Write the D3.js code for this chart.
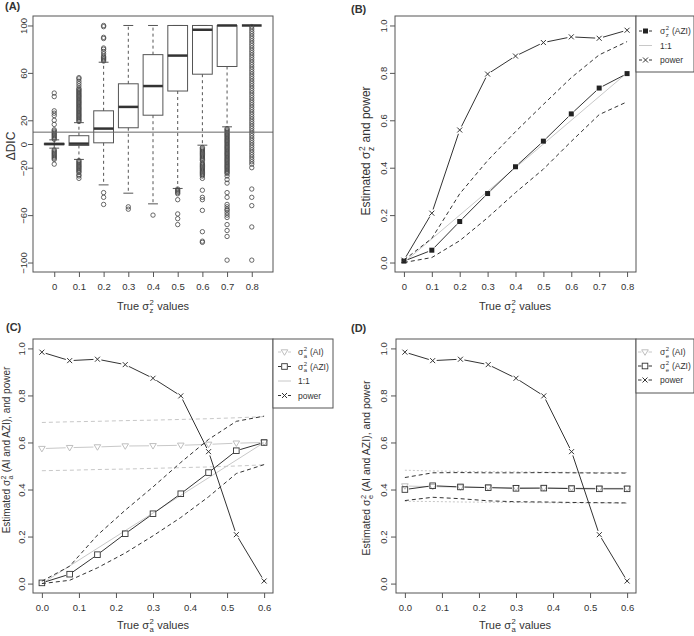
<!DOCTYPE html>
<html>
<head>
<meta charset="utf-8">
<script src="https://cdn.jsdelivr.net/npm/d3@7"></script>
<style>
body { margin: 0; background: #fff; }
svg text { font-family: "Liberation Sans", Arial, sans-serif; fill: #333; }
</style>
</head>
<body>
<svg id="fig" width="694" height="636"></svg>
<script>
// ---- data (A) boxplots of delta DIC
var catsA = ["0", "0.1", "0.2", "0.3", "0.4", "0.5", "0.6", "0.7", "0.8"];
var q1A  = [-0.6, -1.2, 1, 13.7, 24.3, 44.7, 58.9, 65.4, 100];
var medA = [0, 0.3, 13, 31.3, 48.9, 74.6, 96.4, 100, 100];
var q3A  = [0.6, 7, 28, 50.8, 75.4, 100, 100, 100, 100];
var loA  = [-3.5, -13, -34.5, -41.5, -50.5, -37.5, -1, 14.5, 100];
var hiA  = [3.5, 18, 69, 100, 100, 100, 100, 100, 100];
var out0 = [43, 40, 28, 26, 24, 20, 16.5, 12, 11, 10, 9, 8, 7, 6, 5, 4, -5, -6, -7, -8, -9, -10, -11, -12, -13, -17];
var out1 = [56, 55, 53, 51, 49, 47, 46, 45, 44, 43, 42, 41, 40, 39, 38, 37, 36, 35, 34, 33, 32, 31, 30, 29, 28, 27, 26, 25, 24, 23, 22, 21, 20, 19,
            -14, -15, -16, -17, -18, -19, -20, -21, -22, -23, -24, -26, -27, -29];
var out2 = [100, 99, 90, 89, 81, 80, 78, 76, 74, 73, 72, 71, 70, -41, -45, -51];
var out3 = [-53, -55];
var out4 = [-60];
var out5 = [-38, -39, -40, -41, -42, -47, -59, -63, -68];
var out6 = [-3, -4, -5, -6, -7, -8, -9, -10, -11, -12, -13, -14, -16, -17, -18, -19, -20, -21, -22, -23, -24, -25, -26, -27, -29,
            -39, -45, -47, -56, -74, -82, -83];
var out7 = [13, 12, 11, 10, 9, 8, 7, 6, 5, 4, 3, 2, 1, 0, -1, -2, -3, -4, -5, -6, -7, -8, -9, -10, -11, -12, -13, -14, -15, -16,
            -17, -18, -19, -20, -21, -22, -23, -24, -25, -27, -30, -33, -41, -45, -51, -53, -55, -56, -58, -60, -62, -68, -73, -78, -98];
var out8 = [99, 97, 95, 93, 91, 89, 87, 85, 83, 81, 79, 77, 75, 73, 71, 69, 67, 65, 63, 61, 59, 57, 55, 53, 51, 49, 47, 45, 43, 41,
            39, 37, 35, 33, 31, 29, 27, 25, 23, 21, 19, 17, 15, 13, 11, 9, 7, 5, 3, 1, -1, -3, -5, -7, -9, -11, -13, -15, -17, -20,
            -38, -45, -52, -70, -98];
var outA = [out0, out1, out2, out3, out4, out5, out6, out7, out8];
var dicThreshold = 10;
var yTicksA = [-100, -60, -20, 0, 20, 60, 100];

// ---- data (B)
var trueZ  = [0, 0.1, 0.2, 0.3, 0.4, 0.5, 0.6, 0.7, 0.8];
var estZ   = [0.006, 0.052, 0.173, 0.291, 0.404, 0.512, 0.627, 0.736, 0.797];
var estZhi = [0.01, 0.102, 0.29, 0.43, 0.552, 0.667, 0.78, 0.876, 0.932];
var estZlo = [0.0, 0.021, 0.092, 0.189, 0.295, 0.394, 0.511, 0.624, 0.678];
var powerZ = [0.01, 0.208, 0.559, 0.795, 0.871, 0.928, 0.952, 0.946, 0.98];
var xTicksB = [0, 0.1, 0.2, 0.3, 0.4, 0.5, 0.6, 0.7, 0.8];

// ---- data (C) and (D)
var trueA      = [0, 0.075, 0.15, 0.225, 0.3, 0.375, 0.45, 0.525, 0.6];
var estA_AI    = [0.574, 0.578, 0.581, 0.585, 0.586, 0.588, 0.592, 0.597, 0.6];
var estA_AIhi  = [0.685, 0.688, 0.69, 0.693, 0.695, 0.698, 0.701, 0.705, 0.71];
var estA_AIlo  = [0.48, 0.482, 0.485, 0.487, 0.49, 0.493, 0.496, 0.5, 0.505];
var estA_AZI   = [0.003, 0.04, 0.123, 0.212, 0.297, 0.382, 0.472, 0.565, 0.6];
var estA_AZIhi = [0.01, 0.074, 0.206, 0.312, 0.411, 0.515, 0.613, 0.69, 0.712];
var estA_AZIlo = [0.0, 0.014, 0.067, 0.13, 0.203, 0.281, 0.369, 0.468, 0.506];
var powerA     = [0.984, 0.948, 0.954, 0.931, 0.873, 0.798, 0.561, 0.208, 0.011];
var estE_AI    = [0.415, 0.412, 0.41, 0.409, 0.408, 0.407, 0.406, 0.405, 0.405];
var estE_AIhi  = [0.482, 0.479, 0.477, 0.476, 0.475, 0.474, 0.473, 0.472, 0.472];
var estE_AIlo  = [0.35, 0.349, 0.347, 0.346, 0.345, 0.344, 0.343, 0.343, 0.342];
var estE_AZI   = [0.400, 0.416, 0.411, 0.408, 0.405, 0.406, 0.404, 0.403, 0.403];
var estE_AZIhi = [0.451, 0.471, 0.472, 0.471, 0.471, 0.472, 0.471, 0.470, 0.470];
var estE_AZIlo = [0.353, 0.367, 0.361, 0.352, 0.348, 0.347, 0.345, 0.344, 0.343];
var xTicksC = [0, 0.1, 0.2, 0.3, 0.4, 0.5, 0.6];
var yTicks01 = [0, 0.2, 0.4, 0.6, 0.8, 1.0];

var svg = d3.select("#fig");
var DARK = "#333", LIGHT = "#c8c8c8", FRAME = "#555";

// text made of pieces, sigma with stacked sup/sub like R plotmath
function rich(parent, parts, size) {
    var g = parent.append("g"), x = 0;
    parts.forEach(function(p) {
        if (typeof p === "string") {
            var t = g.append("text").attr("x", x).style("font-size", size + "px").style("white-space", "pre").text(p);
            x += t.node().getComputedTextLength();
        } else {
            var s = size * 0.7;
            var a = g.append("text").attr("x", x + 0.5).attr("y", -size * 0.42).style("font-size", s + "px").text(p.sup);
            var b = g.append("text").attr("x", x + 0.5).attr("y", size * 0.3).style("font-size", s + "px").text(p.sub);
            x += Math.max(a.node().getComputedTextLength(), b.node().getComputedTextLength()) + 1;
        }
    });
    return {g: g, w: x};
}
function title(parts, size, cx, cy, rot, anchor) {
    var outer = svg.append("g").attr("transform", "translate(" + cx + "," + cy + ")" + (rot ? " rotate(-90)" : ""));
    var r = rich(outer, parts, size);
    r.g.attr("transform", "translate(" + (anchor === "start" ? 0 : -r.w / 2) + ",0)");
}

function frame(p) {
    svg.append("rect").attr("x", p.x0).attr("y", p.y0).attr("width", p.x1 - p.x0).attr("height", p.y1 - p.y0)
        .attr("fill", "none").attr("stroke", FRAME);
}
function axes(p, x, y, xticks, xfmt, yticks, yfmt, yoff) {
    var gx = svg.append("g").attr("transform", "translate(0," + p.y1 + ")")
        .call(d3.axisBottom(x).tickValues(xticks).tickFormat(xfmt).tickSize(5).tickPadding(6));
    var gy = svg.append("g").attr("transform", "translate(" + p.x0 + ",0)")
        .call(d3.axisLeft(y).tickValues(yticks).tickFormat(yfmt).tickSize(5));
    [gx, gy].forEach(function(g) {
        g.select(".domain").remove();
        g.selectAll("line").attr("stroke", FRAME);
        g.selectAll("text").attr("fill", DARK).style("font-size", "9.5px");
    });
    gy.selectAll("text").attr("x", null).attr("dy", null).attr("text-anchor", "middle")
        .attr("transform", "translate(" + (-yoff) + ",0) rotate(-90)");
}

function marker(g, type, cx, cy) {
    if (type === "fsq") {
        g.append("rect").attr("x", cx - 2.5).attr("y", cy - 2.5).attr("width", 5).attr("height", 5).attr("fill", "#222");
    } else if (type === "osq") {
        g.append("rect").attr("x", cx - 2.8).attr("y", cy - 2.8).attr("width", 5.6).attr("height", 5.6)
            .attr("fill", "none").attr("stroke", DARK).attr("stroke-width", 0.9);
    } else if (type === "tri") {
        g.append("path").attr("d", "M" + (cx - 3.3) + "," + (cy - 2.2) + "L" + (cx + 3.3) + "," + (cy - 2.2) + "L" + cx + "," + (cy + 3.3) + "Z")
            .attr("fill", "none").attr("stroke", "#b8b8b8").attr("stroke-width", 0.9);
    } else if (type === "x") {
        g.append("path").attr("d", "M" + (cx - 2.5) + "," + (cy - 2.5) + "L" + (cx + 2.5) + "," + (cy + 2.5) +
            "M" + (cx - 2.5) + "," + (cy + 2.5) + "L" + (cx + 2.5) + "," + (cy - 2.5))
            .attr("stroke", DARK).attr("fill", "none");
    }
}
// R type="b": points joined by segments with a gap at each point
function series(xs, ys, x, y, type, color) {
    var g = svg.append("g");
    var pts = xs.map(function(d, i) { return [x(d), y(ys[i])]; });
    var gap = 4;
    for (var i = 0; i < pts.length - 1; i++) {
        var dx = pts[i + 1][0] - pts[i][0], dy = pts[i + 1][1] - pts[i][1];
        var len = Math.sqrt(dx * dx + dy * dy);
        if (len <= 2 * gap) continue;
        var ux = dx / len, uy = dy / len;
        g.append("line")
            .attr("x1", pts[i][0] + ux * gap).attr("y1", pts[i][1] + uy * gap)
            .attr("x2", pts[i + 1][0] - ux * gap).attr("y2", pts[i + 1][1] - uy * gap)
            .attr("stroke", color).attr("stroke-width", 1);
    }
    pts.forEach(function(p) { marker(g, type, p[0], p[1]); });
}
function band(xs, ys, x, y, color, dash) {
    svg.append("path").datum(xs.map(function(d, i) { return [d, ys[i]]; }))
        .attr("d", d3.line().x(function(d) { return x(d[0]); }).y(function(d) { return y(d[1]); }))
        .attr("fill", "none").attr("stroke", color).attr("stroke-width", 1).attr("stroke-dasharray", dash);
}
function oneToOne(lo, hi, x, y) {
    svg.append("line").attr("x1", x(lo)).attr("y1", y(lo)).attr("x2", x(hi)).attr("y2", y(hi))
        .attr("stroke", LIGHT).attr("stroke-width", 1);
}
function legend(box, entries) {
    svg.append("rect").attr("x", box.x0).attr("y", box.y0).attr("width", box.x1 - box.x0).attr("height", box.y1 - box.y0)
        .attr("fill", "#fff").attr("stroke", FRAME);
    entries.forEach(function(e, i) {
        var cy = box.ey[i], mx = (box.lx0 + box.lx1) / 2;
        var g = svg.append("g");
        if (e.type) {
            g.append("line").attr("x1", box.lx0).attr("x2", mx - 3.5).attr("y1", cy).attr("y2", cy).attr("stroke", e.color);
            g.append("line").attr("x1", mx + 3.5).attr("x2", box.lx1).attr("y1", cy).attr("y2", cy).attr("stroke", e.color);
            marker(g, e.type, mx, cy);
        } else {
            g.append("line").attr("x1", box.lx0).attr("x2", box.lx1).attr("y1", cy).attr("y2", cy).attr("stroke", e.color);
        }
        title(e.parts, 8.5, box.tx, cy + 3, false, "start");
    });
}
function panelLabel(s, x, y) {
    svg.append("text").attr("x", x).attr("y", y).style("font-size", "11px").style("font-weight", "bold").attr("fill", "#222").text(s);
}
var fmt1 = d3.format(".1f");
var minusFmt = function(d) { return d < 0 ? "\u2212" + Math.abs(d) : String(d); };

// ================= (A)
var pA = {x0: 33, x1: 273, y0: 16, y1: 272};
var xA = d3.scaleLinear().domain([0.14, 9.86]).range([pA.x0, pA.x1]);
var yA = d3.scaleLinear().domain([-108, 108]).range([pA.y1, pA.y0]);
var step = xA(2) - xA(1), hw = step * 0.4;
catsA.forEach(function(c, i) {
    var cx = xA(i + 1), g = svg.append("g");
    g.append("line").attr("x1", cx).attr("x2", cx).attr("y1", yA(q3A[i])).attr("y2", yA(hiA[i]))
        .attr("stroke", FRAME).attr("stroke-dasharray", "3,3");
    g.append("line").attr("x1", cx).attr("x2", cx).attr("y1", yA(q1A[i])).attr("y2", yA(loA[i]))
        .attr("stroke", FRAME).attr("stroke-dasharray", "3,3");
    [loA[i], hiA[i]].forEach(function(v) {
        g.append("line").attr("x1", cx - hw / 2).attr("x2", cx + hw / 2).attr("y1", yA(v)).attr("y2", yA(v)).attr("stroke", FRAME);
    });
    g.append("rect").attr("x", cx - hw).attr("width", 2 * hw).attr("y", yA(q3A[i])).attr("height", yA(q1A[i]) - yA(q3A[i]))
        .attr("fill", "none").attr("stroke", FRAME);
    g.append("line").attr("x1", cx - hw).attr("x2", cx + hw).attr("y1", yA(medA[i])).attr("y2", yA(medA[i]))
        .attr("stroke", DARK).attr("stroke-width", 2.5);
    g.selectAll("circle").data(outA[i]).enter().append("circle")
        .attr("cx", cx).attr("cy", function(d) { return yA(d); }).attr("r", 2.2)
        .attr("fill", "none").attr("stroke", "#444").attr("stroke-width", 0.8);
});
svg.append("line").attr("x1", pA.x0).attr("x2", pA.x1).attr("y1", yA(dicThreshold)).attr("y2", yA(dicThreshold))
    .attr("stroke", "#666").attr("stroke-width", 1);
frame(pA);
axes(pA, xA, yA, d3.range(1, 10), function(d) { return catsA[d - 1]; }, yTicksA, minusFmt, 6.5);
title(["True \u03c3", {sup: "2", sub: "z"}, " values"], 11, 153, 310, false);
title(["\u0394DIC"], 12, 15, 146, true);
panelLabel("(A)", 5, 10);

// ================= (B)
var pB = {x0: 395, x1: 636, y0: 16, y1: 272};
var xB = d3.scaleLinear().domain([-0.032, 0.832]).range([pB.x0, pB.x1]);
var yB = d3.scaleLinear().domain([-0.04, 1.04]).range([pB.y1, pB.y0]);
oneToOne(0, 0.8, xB, yB);
band(trueZ, estZhi, xB, yB, DARK, "4,3");
band(trueZ, estZlo, xB, yB, DARK, "4,3");
series(trueZ, estZ, xB, yB, "fsq", DARK);
series(trueZ, powerZ, xB, yB, "x", DARK);
frame(pB);
axes(pB, xB, yB, xTicksB, function(d) { return d === 0 ? "0" : fmt1(d); }, yTicks01, fmt1, 8.5);
title(["True \u03c3", {sup: "2", sub: "z"}, " values"], 11, 515, 310, false);
title(["Estimated \u03c3", {sup: "2", sub: "z"}, " and power"], 12, 370, 151, true);
legend({x0: 636, x1: 694, y0: 16, y1: 72, lx0: 639, lx1: 652, tx: 660, ey: [31, 45.5, 60]}, [
    {parts: ["\u03c3", {sup: "2", sub: "z"}, " (AZI)"], type: "fsq", color: DARK},
    {parts: ["1:1"], color: LIGHT},
    {parts: ["power"], type: "x", color: DARK}
]);
panelLabel("(B)", 351, 13);

// ================= (C)
var pC = {x0: 33, x1: 273, y0: 339, y1: 593};
var xC = d3.scaleLinear().domain([-0.024, 0.624]).range([pC.x0, pC.x1]);
var yC = d3.scaleLinear().domain([-0.04, 1.04]).range([pC.y1, pC.y0]);
band(trueA, estA_AIhi, xC, yC, LIGHT, "4,3");
band(trueA, estA_AIlo, xC, yC, LIGHT, "4,3");
series(trueA, estA_AI, xC, yC, "tri", LIGHT);
oneToOne(0, 0.6, xC, yC);
band(trueA, estA_AZIhi, xC, yC, DARK, "4,3");
band(trueA, estA_AZIlo, xC, yC, DARK, "4,3");
series(trueA, estA_AZI, xC, yC, "osq", DARK);
series(trueA, powerA, xC, yC, "x", DARK);
frame(pC);
axes(pC, xC, yC, xTicksC, fmt1, yTicks01, fmt1, 8);
title(["True \u03c3", {sup: "2", sub: "a"}, " values"], 11, 153, 629, false);
title(["Estimated \u03c3", {sup: "2", sub: "a"}, " (AI and AZI), and power"], 10, 10, 450, true);
legend({x0: 273, x1: 333, y0: 339, y1: 408, lx0: 278, lx1: 291, tx: 298, ey: [352, 366.5, 381, 395.5]}, [
    {parts: ["\u03c3", {sup: "2", sub: "a"}, " (AI)"], type: "tri", color: LIGHT},
    {parts: ["\u03c3", {sup: "2", sub: "a"}, " (AZI)"], type: "osq", color: DARK},
    {parts: ["1:1"], color: LIGHT},
    {parts: ["power"], type: "x", color: DARK}
]);
panelLabel("(C)", 6, 331);

// ================= (D)
var pD = {x0: 396, x1: 636, y0: 339, y1: 593};
var xD = d3.scaleLinear().domain([-0.024, 0.624]).range([pD.x0, pD.x1]);
var yD = d3.scaleLinear().domain([-0.04, 1.04]).range([pD.y1, pD.y0]);
band(trueA, estE_AIhi, xD, yD, LIGHT, "2,2");
band(trueA, estE_AIlo, xD, yD, LIGHT, "2,2");
series(trueA, estE_AI, xD, yD, "tri", LIGHT);
band(trueA, estE_AZIhi, xD, yD, DARK, "4,3");
band(trueA, estE_AZIlo, xD, yD, DARK, "4,3");
series(trueA, estE_AZI, xD, yD, "osq", DARK);
series(trueA, powerA, xD, yD, "x", DARK);
frame(pD);
axes(pD, xD, yD, xTicksC, fmt1, yTicks01, fmt1, 9);
title(["True \u03c3", {sup: "2", sub: "a"}, " values"], 11, 515, 629, false);
title(["Estimated \u03c3", {sup: "2", sub: "e"}, " (AI and AZI), and power"], 10.5, 370, 468, true);
legend({x0: 636, x1: 694, y0: 339, y1: 393, lx0: 638, lx1: 652, tx: 660, ey: [352, 366, 380]}, [
    {parts: ["\u03c3", {sup: "2", sub: "e"}, " (AI)"], type: "tri", color: LIGHT},
    {parts: ["\u03c3", {sup: "2", sub: "e"}, " (AZI)"], type: "osq", color: DARK},
    {parts: ["power"], type: "x", color: DARK}
]);
panelLabel("(D)", 351, 332);
</script>
</body>
</html>
